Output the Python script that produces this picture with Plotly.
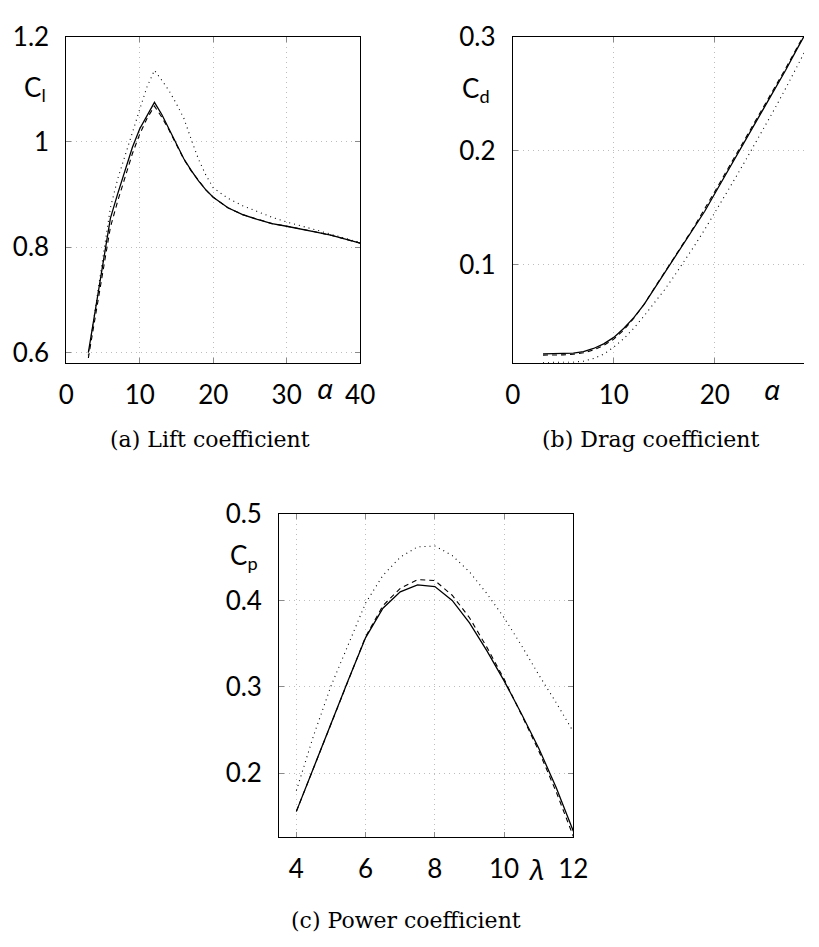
import plotly.graph_objects as go

# ---- Lift coefficient vs angle of attack ----
ALPHA_L = [3, 4, 5, 6, 7, 8, 9, 10, 11, 12, 13, 14, 15, 16, 17, 18, 19, 20,
           22, 24, 26, 28, 30, 32, 34, 36, 38, 40]
CL_SOLID = [0.600, 0.685, 0.770, 0.855, 0.902, 0.946, 0.990, 1.025, 1.050, 1.075,
            1.052, 1.025, 0.996, 0.968, 0.946, 0.926, 0.909, 0.895,
            0.875, 0.862, 0.853, 0.845, 0.840, 0.835, 0.829, 0.823, 0.816, 0.808]
CL_DASHED = [0.590, 0.670, 0.755, 0.838, 0.888, 0.935, 0.978, 1.015, 1.045, 1.068,
             1.047, 1.022, 0.995, 0.967, 0.945, 0.926, 0.909, 0.895,
             0.875, 0.862, 0.853, 0.845, 0.840, 0.835, 0.829, 0.823, 0.816, 0.808]
CL_DOTTED = [0.595, 0.690, 0.782, 0.875, 0.930, 0.975, 1.018, 1.062, 1.105, 1.136,
             1.117, 1.097, 1.072, 1.045, 1.005, 0.967, 0.937, 0.913,
             0.893, 0.879, 0.868, 0.857, 0.848, 0.841, 0.833, 0.825, 0.817, 0.809]

# ---- Drag coefficient vs angle of attack ----
ALPHA_D = [3, 4, 5, 6, 7, 8, 9, 10, 11, 12, 13, 14, 15, 16, 17, 18, 19, 20,
           21, 22, 23, 24, 25, 26, 27, 28, 29]
CD_SOLID = [0.0220, 0.0221, 0.0223, 0.0228, 0.0240, 0.0268, 0.0308, 0.0365, 0.0445,
            0.0540, 0.0655, 0.0790, 0.0925, 0.1060, 0.1190, 0.1325, 0.1470, 0.1625,
            0.1780, 0.1935, 0.2085, 0.2235, 0.2390, 0.2545, 0.2705, 0.2870, 0.3030]
CD_DASHED = [0.0210, 0.0210, 0.0212, 0.0217, 0.0230, 0.0255, 0.0295, 0.0350, 0.0430,
             0.0535, 0.0655, 0.0795, 0.0935, 0.1072, 0.1205, 0.1342, 0.1488, 0.1643,
             0.1798, 0.1952, 0.2102, 0.2252, 0.2405, 0.2560, 0.2720, 0.2882, 0.3042]
CD_DOTTED = [0.0145, 0.0145, 0.0146, 0.0148, 0.0156, 0.0180, 0.0218, 0.0280, 0.0355,
             0.0448, 0.0553, 0.0663, 0.0780, 0.0905, 0.1035, 0.1170, 0.1310, 0.1455,
             0.1605, 0.1757, 0.1910, 0.2065, 0.2222, 0.2380, 0.2545, 0.2713, 0.2885]

# ---- Power coefficient vs tip speed ratio ----
LAMBDA = [4, 4.5, 5, 5.5, 6, 6.5, 7, 7.5, 8, 8.5, 9, 9.5, 10, 10.5, 11, 11.5, 12]
CP_SOLID = [0.156, 0.207, 0.258, 0.308, 0.357, 0.391, 0.410, 0.418, 0.416, 0.400,
            0.374, 0.342, 0.307, 0.269, 0.229, 0.184, 0.133]
CP_DASHED = [0.156, 0.207, 0.258, 0.308, 0.358, 0.394, 0.414, 0.424, 0.423, 0.406,
             0.380, 0.346, 0.309, 0.268, 0.226, 0.179, 0.127]
CP_DOTTED = [0.180, 0.244, 0.301, 0.349, 0.397, 0.429, 0.450, 0.462, 0.463, 0.452,
             0.433, 0.408, 0.380, 0.348, 0.314, 0.282, 0.248]

# tick values and labels
XT_L, XT_L_TXT = [0, 10, 20, 30, 40], ["0", "10", "20", "30", "40"]
YT_L, YT_L_TXT = [0.6, 0.8, 1.0, 1.2], ["0.6", "0.8", "1", "1.2"]
XT_D, XT_D_TXT = [0, 10, 20], ["0", "10", "20"]
YT_D, YT_D_TXT = [0.1, 0.2, 0.3], ["0.1", "0.2", "0.3"]
XT_P, XT_P_TXT = [4, 6, 8, 10, 12], ["4", "6", "8", "10", "12"]
YT_P, YT_P_TXT = [0.2, 0.3, 0.4, 0.5], ["0.2", "0.3", "0.4", "0.5"]

W, H = 819, 947
TICK_FONT = dict(family="Lato, Noto Sans, sans-serif", size=26, color="black")
GREEK_FONT = dict(family="Noto Sans, DejaVu Sans, sans-serif", size=28, color="black")
CAP_FONT = dict(family="DejaVu Serif, serif", size=22, color="black")

STYLES = [
    dict(color="black", width=1.3, dash="solid"),
    dict(color="black", width=1.1, dash="5px,4px"),
    dict(color="black", width=1.1, dash="1px,4px"),
]

fig = go.Figure()


def add_curves(x, series, xa, ya):
    for ys, st in zip(series, STYLES):
        fig.add_trace(go.Scatter(x=x, y=ys, mode="lines", line=st,
                                 xaxis=xa, yaxis=ya, showlegend=False,
                                 hoverinfo="skip"))


add_curves(ALPHA_L, [CL_SOLID, CL_DASHED, CL_DOTTED], "x", "y")
add_curves(ALPHA_D, [CD_SOLID, CD_DASHED, CD_DOTTED], "x2", "y2")
add_curves(LAMBDA, [CP_SOLID, CP_DASHED, CP_DOTTED], "x3", "y3")


def axis(rng, dom, tv, tt, anchor, standoff, mirror="allticks"):
    return dict(range=rng, domain=dom, tickvals=tv, ticktext=tt, anchor=anchor,
                showline=True, linecolor="black", linewidth=1, mirror=mirror,
                ticks="inside", ticklen=5, tickwidth=1, tickcolor="#8a8a8a",
                showgrid=True, gridcolor="#bdbdbd", gridwidth=1, griddash="1px,4px",
                zeroline=False, tickfont=TICK_FONT, ticklabelstandoff=standoff,
                fixedrange=True)


def px_x(p):
    return p / W


def px_y(p):
    return 1 - p / H


ya_ab = [px_y(354), px_y(20)]
fig.update_layout(
    width=W, height=H, margin=dict(l=0, r=0, t=0, b=0),
    paper_bgcolor="white", plot_bgcolor="white",
    xaxis=axis([0, 40], [px_x(60), px_x(362.3)], XT_L, XT_L_TXT, "y", 9),
    yaxis=axis([0.5809, 1.2], ya_ab, YT_L, YT_L_TXT, "x", 11),
    xaxis2=axis([0, 28.82], [px_x(519.3), 1.0], XT_D, XT_D_TXT, "y2", 9),
    yaxis2=axis([0.01428, 0.3], ya_ab, YT_D, YT_D_TXT, "x2", 11, mirror=False),
    xaxis3=axis([3.503, 12], [px_x(279), px_x(581.7)], XT_P, XT_P_TXT, "y3", 9),
    yaxis3=axis([0.1266, 0.5], [px_y(839.3), px_y(508.8)], YT_P, YT_P_TXT, "x3", 11),
)

labels = [
    ("C<sub>l</sub>", 28, 73, TICK_FONT, "center"),
    ("C<sub>d</sub>", 482, 74, TICK_FONT, "center"),
    ("C<sub>p</sub>", 243, 552, TICK_FONT, "center"),
    ("<i>α</i>", 326, 380, GREEK_FONT, "center"),
    ("<i>α</i>", 786, 381, GREEK_FONT, "center"),
    ("<i>λ</i>", 544, 872, GREEK_FONT, "center"),
    ("(a) Lift coefficient", 313, 433, CAP_FONT, "right"),
    ("(b) Drag coefficient", 547, 433, CAP_FONT, "left"),
    ("(c) Power coefficient", 409, 925, CAP_FONT, "center"),
]
for text, x, y, font, xanchor in labels:
    fig.add_annotation(text=text, x=px_x(x), y=px_y(y), xref="paper", yref="paper",
                       showarrow=False, font=font, xanchor=xanchor, yanchor="middle")

fig.write_html("out.html")
